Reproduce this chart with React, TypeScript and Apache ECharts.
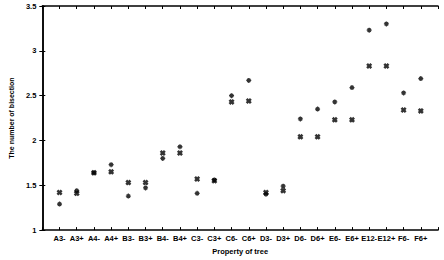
import React, { useEffect, useRef } from "react";
import * as echarts from "echarts";

const categories = ["A3-", "A3+", "A4-", "A4+", "B3-", "B3+", "B4-", "B4+", "C3-", "C3+", "C6-", "C6+", "D3-", "D3+", "D6-", "D6+", "E6-", "E6+", "E12-", "E12+", "F6-", "F6+"];
const starValues = [1.29, 1.44, 1.64, 1.73, 1.38, 1.47, 1.8, 1.93, 1.41, 1.56, 2.5, 2.67, 1.4, 1.49, 2.24, 2.35, 2.43, 2.59, 3.23, 3.3, 2.53, 2.69];
const crossValues = [1.42, 1.41, 1.64, 1.65, 1.53, 1.53, 1.86, 1.86, 1.57, 1.55, 2.43, 2.44, 1.42, 1.44, 2.04, 2.04, 2.23, 2.23, 2.83, 2.83, 2.34, 2.33];
const yTicks = [1, 1.5, 2, 2.5, 3, 3.5];

const STAR = "path://M3.7,0L6.3,0L6.3,10L3.7,10ZM0,3.7L10,3.7L10,6.3L0,6.3ZM0.8,2.6L2.6,0.8L9.2,7.4L7.4,9.2ZM7.4,0.8L9.2,2.6L2.6,9.2L0.8,7.4Z";
const CROSS = "path://M0,3L3,0L5,2L7,0L10,3L8,5L10,7L7,10L5,8L3,10L0,7L2,5Z";

export default function App() {
  const ref = useRef<HTMLDivElement>(null);
  useEffect(() => {
    if (!ref.current) return;
    const chart = echarts.init(ref.current, null, { renderer: "svg" });
    const font = "'Liberation Sans', Arial, sans-serif";
    const axisLine = { show: true, lineStyle: { color: "#000", width: 1.5 } };
    const tick = { inside: true, length: 3, lineStyle: { color: "#000", width: 1 } };
    chart.setOption({
      animation: false,
      backgroundColor: "#fff",
      grid: { left: 32, right: 6, top: 6, bottom: 29 },
      xAxis: [
        {
          type: "value", min: 0, max: 23, interval: 1, position: "bottom",
          axisLine, splitLine: { show: false }, axisTick: tick,
          axisLabel: {
            margin: 4, fontSize: 7.5, color: "#000", fontFamily: font, fontWeight: "bold",
            formatter: (v: number) => categories[v - 1] ?? "",
          },
          name: "Property of tree", nameLocation: "middle", nameGap: 12,
          nameTextStyle: { fontSize: 7.5, color: "#000", fontFamily: font, fontWeight: "bold" },
        },
        {
          type: "value", min: 0, max: 23, interval: 1, position: "top",
          axisLine, splitLine: { show: false }, axisLabel: { show: false }, axisTick: tick,
        },
      ],
      yAxis: [
        {
          type: "value", min: yTicks[0], max: yTicks[yTicks.length - 1], interval: 0.5, position: "left",
          axisLine, splitLine: { show: false }, axisTick: tick,
          axisLabel: { margin: 6, fontSize: 7.5, color: "#000", fontFamily: font, fontWeight: "bold" },
          name: "The number of bisection", nameLocation: "middle", nameGap: 24,
          nameTextStyle: { fontSize: 7, color: "#000", fontFamily: font, fontWeight: "bold" },
        },
        {
          type: "value", min: yTicks[0], max: yTicks[yTicks.length - 1], interval: 0.5, position: "right",
          axisLine, splitLine: { show: false }, axisLabel: { show: false }, axisTick: tick,
        },
      ],
      series: [
        {
          type: "scatter", symbol: STAR, symbolSize: 5,
          itemStyle: { color: "#000" },
          data: starValues.map((v, i) => [i + 1, v]),
        },
        {
          type: "scatter", symbol: CROSS, symbolSize: 6,
          itemStyle: { color: "#000" },
          data: crossValues.map((v, i) => [i + 1, v]),
        },
      ],
    });
    return () => chart.dispose();
  }, []);
  return (
    <div
      ref={ref}
      style={{ position: "fixed", left: 0, top: 0, width: 444, height: 260, background: "#fff" }}
    />
  );
}
